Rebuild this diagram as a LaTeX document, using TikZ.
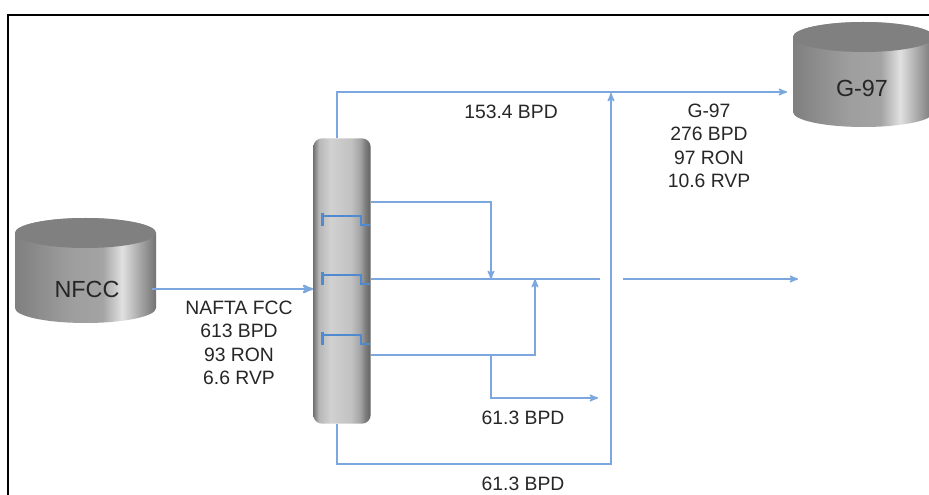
\documentclass[tikz,border=0pt]{standalone}
\usepackage{fontspec}
\setmainfont{Liberation Sans}
\usetikzlibrary{arrows}
\definecolor{stream}{HTML}{7BA7DE}
\definecolor{trayline}{HTML}{4F8AD0}
\pgfdeclarehorizontalshading{tankshade}{100bp}{color(0bp)=(black!50); color(25bp)=(black!50); color(45bp)=(black!38); color(56bp)=(black!36); color(63bp)=(black!12); color(68bp)=(black!30); color(75bp)=(black!55); color(100bp)=(black!55)}
\pgfdeclarehorizontalshading{columnshade}{100bp}{color(0bp)=(black!55); color(25bp)=(black!55); color(30bp)=(black!28); color(40bp)=(black!18); color(58bp)=(black!24); color(66bp)=(black!36); color(70bp)=(black!50); color(75bp)=(black!62); color(100bp)=(black!62)}
\tikzstyle{line} = [draw=stream, line width=1.2pt]
\tikzstyle{flow} = [line, -stealth']
\tikzstyle{feed} = [draw=stream, line width=1.6pt, -stealth']
\tikzstyle{label} = [text=black!85, align=center, inner sep=0pt, font=\fontsize{14.5}{17.6}\selectfont]
\tikzstyle{tanklabel} = [text=black!85, inner sep=0pt, font=\fontsize{17.5}{20}\selectfont]
\tikzstyle{column} = [shading=columnshade, inner sep=0pt, rounded corners=6.5pt, minimum width=43pt, minimum height=214pt]
\tikzset{
  tank/.pic={
    \path[shading=tankshade] (-70.5,37) -- (-70.5,-38) arc[start angle=180,end angle=360,x radius=70.5,y radius=15] -- (70.5,37) arc[start angle=0,end angle=180,x radius=70.5,y radius=15];
    \fill[black!50] (0,37) ellipse[x radius=70.5,y radius=15];
  }
}
\begin{document}
\begin{tikzpicture}[x=.75pt,y=.75pt]
\clip (0,0) rectangle (929,-495);
\draw[line width=1.5pt] (8,-495) -- (8,-15) -- (929,-15);
%
\pic at (85.5,-270) {tank};
\pic at (863.5,-74) {tank};
\node[tanklabel] (nfcc) at (87,-289) {NFCC};
\node[tanklabel] (g97) at (862,-88) {G-97};
\node[column] (tower) at (342,-281) {};
%
\foreach \y in {216,275,335} {
  \draw[trayline, line width=1.8pt] (322.5,-\y+3) -- ++(0,-13);
  \draw[trayline, line width=1pt] (322.5,-\y) -- (361,-\y) -- (361,-\y-9) -- (370,-\y-9);
}
%
\coordinate (feedin) at (152,-289);
\coordinate (topout) at (337,-138);
\coordinate (topbend) at (337,-92);
\coordinate (tankin) at (787,-92);
\coordinate (botout) at (337,-424);
\coordinate (botbend) at (337,-464);
\coordinate (rise) at (611,-464);
\coordinate (riseend) at (611,-93);
\coordinate (upper) at (371,-202);
\coordinate (upperbend) at (491,-202);
\coordinate (midout) at (371,-279);
\coordinate (midin) at (491,-279);
\coordinate (midjoin) at (535,-279);
\coordinate (midend) at (600,-279);
\coordinate (nextstart) at (623,-279);
\coordinate (nextend) at (798,-279);
\coordinate (lower) at (371,-355);
\coordinate (lowersplit) at (491,-355);
\coordinate (lowerbend) at (535,-355);
\coordinate (drawbend) at (491,-398);
\coordinate (drawend) at (598,-398);
%
\draw[feed] (feedin) -- (tower.west |- feedin);
\draw[flow] (topout) -- (topbend) -- (tankin);
\draw[flow] (botout) -- (botbend) -- (rise) -- (riseend);
\draw[flow] (upper) -- (upperbend) -- (midin);
\draw[line] (midout) -- (midend);
\draw[flow] (nextstart) -- (nextend);
\draw[flow] (lower) -- (lowerbend) -- (midjoin);
\draw[flow] (lowersplit) -- (drawbend) -- (drawend);
%
\node[label] (feedlabel) at (239,-343) {NAFTA FCC\\613 BPD\\93 RON\\6.6 RVP};
\node[label] (productlabel) at (709,-146) {G-97\\276 BPD\\97 RON\\10.6 RVP};
\node[label] (toplabel) at (511,-112) {153.4 BPD};
\node[label] (drawlabel) at (523,-418) {61.3 BPD};
\node[label] (botlabel) at (523,-484) {61.3 BPD};
\end{tikzpicture}
\end{document}
